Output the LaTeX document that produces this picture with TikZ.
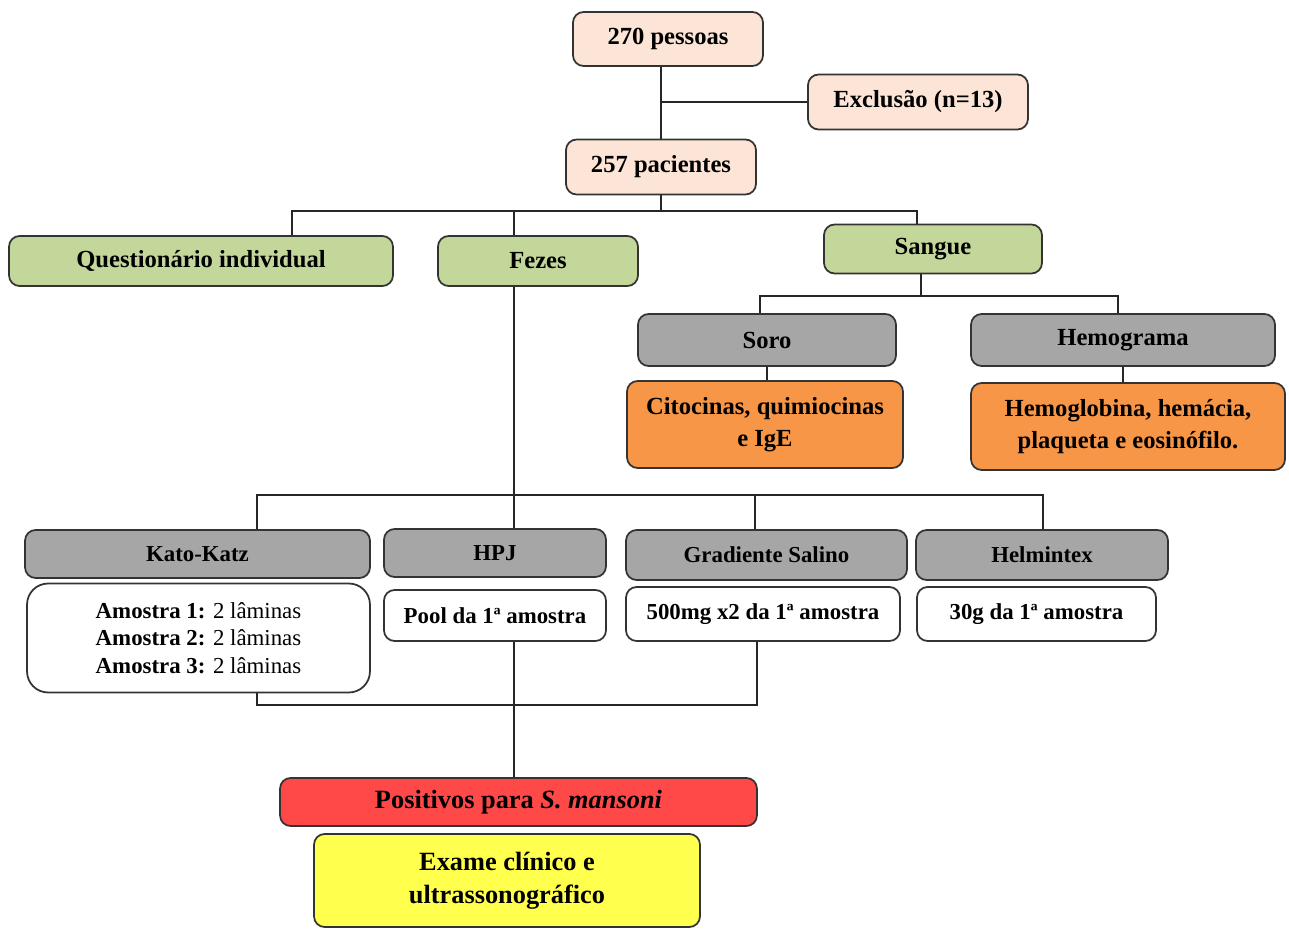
\documentclass[tikz,border=0pt]{standalone}
\usepackage{tikz}
\usepackage{xcolor}
\usepackage{fontspec}
\setmainfont{Liberation Serif}

\definecolor{pele}{RGB}{252,229,214}
\definecolor{verde}{RGB}{196,215,155}
\definecolor{cinza}{RGB}{166,166,166}
\definecolor{laranja}{RGB}{247,150,70}
\definecolor{vermelho}{RGB}{255,72,72}
\definecolor{amarelo}{RGB}{255,255,77}

\begin{document}
\begin{tikzpicture}[x=0.02cm,y=-0.02cm,
		caixa/.style={draw=black!80,line width=1pt,rounded corners=6pt,align=center,inner sep=2pt,font=\fontsize{14}{18.5}\selectfont\bfseries},
		caixinha/.style={caixa,font=\fontsize{13}{14}\selectfont\bfseries},
		ligacao/.style={draw=black!85,line width=1pt}]
			\useasboundingbox (0,0) rectangle (1289,929);
			\node[caixa,fill=pele,minimum width=3.8cm,minimum height=1.08cm] (n270) at (668,39) {270 pessoas};
			\node[caixa,fill=pele,minimum width=4.4cm,minimum height=1.1cm] (excl) at (918,102) {Exclusão (n=13)};
			\node[caixa,fill=pele,minimum width=3.8cm,minimum height=1.1cm] (n257) at (661,167) {257 pacientes};
			\node[caixa,fill=verde,minimum width=7.68cm,minimum height=1cm] (quest) at (201,261) {Questionário individual};
			\node[caixa,fill=verde,minimum width=4cm,minimum height=1cm] (fezes) at (538,261) {Fezes};
			\node[caixa,fill=verde,minimum width=4.36cm,minimum height=0.98cm] (sangue) at (933,249) {Sangue};
			\node[caixa,fill=cinza,minimum width=5.16cm,minimum height=1.04cm] (soro) at (767,340) {Soro};
			\node[caixa,fill=cinza,minimum width=6.08cm,minimum height=1.04cm] (hemo) at (1123,340) {Hemograma};
			\node[caixa,fill=laranja,minimum width=5.52cm,minimum height=1.74cm] (cito) at (765,424.5) {Citocinas, quimiocinas\\e IgE};
			\node[caixa,fill=laranja,minimum width=6.28cm,minimum height=1.74cm] (hemog) at (1128,426.5) {Hemoglobina, hemácia,\\plaqueta e eosinófilo.};
			\node[caixinha,fill=cinza,minimum width=6.9cm,minimum height=0.96cm] (kato) at (197.5,554) {Kato-Katz};
			\node[caixinha,fill=cinza,minimum width=4.44cm,minimum height=0.96cm] (hpj) at (495,553) {HPJ};
			\node[caixinha,fill=cinza,minimum width=5.62cm,minimum height=1cm] (grad) at (766.5,555) {Gradiente Salino};
			\node[caixinha,fill=cinza,minimum width=5.04cm,minimum height=1cm] (helm) at (1042,555) {Helmintex};
			\node[caixinha,fill=white,rounded corners=12pt,minimum width=6.86cm,minimum height=2.18cm,font=\fontsize{13}{15.6}\selectfont] (katos) at (198.5,638) {\textbf{Amostra 1:} 2 lâminas\\\textbf{Amostra 2:} 2 lâminas\\\textbf{Amostra 3:} 2 lâminas};
			\node[caixinha,fill=white,minimum width=4.44cm,minimum height=1.02cm] (hpjs) at (495,615.5) {Pool da 1ª amostra};
			\node[caixinha,fill=white,minimum width=5.48cm,minimum height=1.08cm] (grads) at (763,614) {500mg x2 da 1ª amostra};
			\node[caixinha,fill=white,minimum width=4.78cm,minimum height=1.08cm] (helms) at (1036.5,614) {30g da 1ª amostra};
			\node[caixa,fill=vermelho,minimum width=9.54cm,minimum height=0.96cm,font=\fontsize{15}{18}\selectfont\bfseries] (pos) at (518.5,802) {Positivos para \textit{S. mansoni}};
			\node[caixa,fill=amarelo,minimum width=7.72cm,minimum height=1.86cm,font=\fontsize{15}{19}\selectfont\bfseries] (exame) at (507,880.5) {Exame clínico e\\ultrassonográfico};
			\coordinate (qj) at (292,211);
			\coordinate (fj) at (514,211);
			\coordinate (sj) at (917,211);
			\coordinate (sgj) at (921,296);
			\coordinate (soj) at (760,296);
			\coordinate (hej) at (1118,296);
			\coordinate (kj) at (257,495);
			\coordinate (fj2) at (514,495);
			\coordinate (gj) at (755,495);
			\coordinate (hj) at (1043,495);
			\coordinate (kl) at (257,705);
			\coordinate (pj) at (514,705);
			\coordinate (gl) at (757,705);
			\draw[ligacao] (n257.north |- n270.south) -- (n257.north);
			\draw[ligacao] (n257.north |- excl.west) -- (excl.west);
			\draw[ligacao] (n257.south) -- (n257.south |- qj);
			\draw[ligacao] (qj |- quest.north) -- (qj) -- (sj) -- (sj |- sangue.north);
			\draw[ligacao] (fj) -- (fj |- fezes.north);
			\draw[ligacao] (sgj |- sangue.south) -- (sgj);
			\draw[ligacao] (soj |- soro.north) -- (soj) -- (hej) -- (hej |- hemo.north);
			\draw[ligacao] (soro.south) -- (soro.south |- cito.north);
			\draw[ligacao] (hemo.south) -- (hemo.south |- hemog.north);
			\draw[ligacao] (fj2 |- fezes.south) -- (fj2) -- (fj2 |- hpj.north);
			\draw[ligacao] (kj |- kato.north) -- (kj) -- (hj) -- (hj |- helm.north);
			\draw[ligacao] (gj) -- (gj |- grad.north);
			\draw[ligacao] (kl |- katos.south) -- (kl) -- (gl) -- (gl |- grads.south);
			\draw[ligacao] (pj |- hpjs.south) -- (pj |- pos.north);
		\end{tikzpicture}
\end{document}
